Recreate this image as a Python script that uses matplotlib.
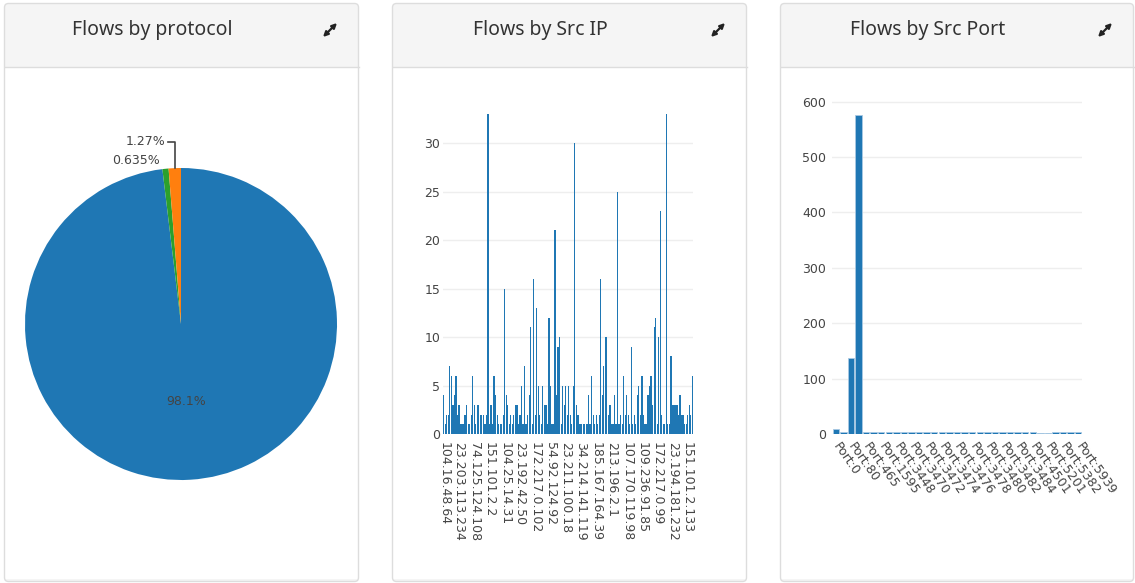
import matplotlib
matplotlib.use("Agg")
import matplotlib.pyplot as plt
from matplotlib.patches import FancyBboxPatch, Rectangle
import numpy as np

# ---------------- data ----------------
panel_titles = ["Flows by protocol", "Flows by Src IP", "Flows by Src Port"]

protocol_names = ["TCP", "ICMP", "UDP"]
protocol_counts = [309, 2, 4]
protocol_colors = ["#1f77b4", "#2ca02c", "#ff7f0e"]

src_ip_counts = [
    4, 1, 2, 2, 7, 6, 3, 4, 6, 2,
    3, 1, 1, 1, 2, 3, 1, 1, 2, 6,
    3, 1, 3, 3, 2, 2, 2, 1, 2, 33,
    1, 3, 1, 6, 4, 2, 1, 1, 1, 2,
    15, 4, 3, 1, 2, 1, 2, 3, 3, 1,
    2, 5, 1, 7, 1, 2, 4, 11, 1, 16,
    2, 13, 5, 2, 1, 5, 3, 3, 1, 12,
    5, 1, 1, 21, 4, 9, 10, 1, 5, 3,
    5, 2, 5, 2, 1, 5, 30, 3, 2, 1,
    1, 0, 1, 0, 1, 4, 1, 6, 2, 1,
    2, 1, 2, 16, 4, 7, 10, 10, 2, 3,
    1, 1, 4, 1, 25, 1, 2, 1, 6, 2,
    4, 2, 1, 9, 1, 2, 1, 4, 5, 2,
    6, 2, 1, 1, 4, 5, 6, 3, 11, 12,
    1, 10, 23, 2, 1, 1, 33, 1, 1, 8,
    3, 3, 3, 3, 2, 4, 2, 2, 1, 1,
    2, 3, 2, 6,
]
src_ip_tick_labels = [
    "104.16.48.64", "23.203.113.234", "74.125.124.108", "151.101.2.2",
    "104.25.14.31", "23.192.42.50", "172.217.0.102", "54.92.124.92",
    "23.211.100.18", "34.214.141.119", "185.167.164.39", "213.196.2.1",
    "107.170.119.98", "109.236.91.85", "172.217.0.99", "23.194.181.232",
    "151.101.2.133",
]

src_port_counts = [
    9, 4, 137, 576, 3, 3, 3, 3, 3, 3,
    3, 3, 3, 3, 3, 3, 3, 3, 3, 3,
    3, 3, 3, 3, 3, 3, 3, 1, 1, 3,
    3, 3, 3,
]
src_port_tick_labels = [
    "Port:0", "Port:80", "Port:465", "Port:1595", "Port:3448", "Port:3470",
    "Port:3472", "Port:3474", "Port:3476", "Port:3478", "Port:3480",
    "Port:3482", "Port:3484", "Port:4501", "Port:5201", "Port:5382",
    "Port:5939",
]

# ---------------- figure ----------------
W, H = 1135, 583
fig = plt.figure(figsize=(W / 100, H / 100), dpi=100)
fig.patch.set_facecolor("white")

bg = fig.add_axes([0, 0, 1, 1])
bg.set_xlim(0, W)
bg.set_ylim(H, 0)
bg.axis("off")

TXT = "#444444"
TICK_FONT = dict(family="DejaVu Sans", size=9, color=TXT)


def px_axes(x0, y0, x1, y1):
    return fig.add_axes([x0 / W, 1 - y1 / H, (x1 - x0) / W, (y1 - y0) / H])


cards = [(4, 359), (392, 747), (780, 1134)]
for (x0, x1), title in zip(cards, panel_titles):
    bg.add_patch(FancyBboxPatch((x0 + 0.5, 3.5), x1 - x0 - 1, 578,
                                boxstyle="round,pad=0,rounding_size=4",
                                fc="#f5f5f5", ec="none", zorder=1))
    bg.add_patch(Rectangle((x0 + 1, 67), x1 - x0 - 2, 512, fc="white",
                           ec="none", zorder=2))
    bg.plot([x0 + 0.5, x1 - 0.5], [67, 67], color="#dddddd", lw=1, zorder=3)
    bg.add_patch(FancyBboxPatch((x0 + 0.5, 3.5), x1 - x0 - 1, 578,
                                boxstyle="round,pad=0,rounding_size=4",
                                fc="none", ec="#dddddd", lw=1, zorder=4))
    cx = (x0 + x1) / 2 - 29.5
    bg.text(cx, 30, title, ha="center", va="center", fontsize=14,
            family="Noto Sans", color="#333333", zorder=5)
    ix = x1 - 29
    bg.annotate("", xy=(ix + 7, 23), xytext=(ix - 7, 37),
                arrowprops=dict(arrowstyle="<|-|>", color="#222222", lw=1.6,
                                mutation_scale=7, shrinkA=0, shrinkB=0),
                zorder=5)

# ---------------- pie ----------------
axp = px_axes(25, 168, 337, 480)
wedges, _ = axp.pie(protocol_counts, colors=protocol_colors, startangle=90,
                    counterclock=False, radius=1,
                    wedgeprops=dict(linewidth=0))
axp.set_xlim(-1, 1)
axp.set_ylim(-1, 1)
axp.set_aspect("equal")
axp.axis("off")
total = sum(protocol_counts)
pcts = [100 * v / total for v in protocol_counts]


def fmt(p):
    s = f"{p:.3g}"
    return s + "%"


# inside label for big slice
w = wedges[0]
mid = np.deg2rad((w.theta1 + w.theta2) / 2)
axp.text(0.5 * np.cos(mid), 0.5 * np.sin(mid), fmt(pcts[0]), ha="center",
         va="center", fontdict=TICK_FONT)
# orange slice: leader line
w = wedges[2]
mid = np.deg2rad((w.theta1 + w.theta2) / 2)
ex, ey = np.cos(mid), np.sin(mid)
axp.plot([ex, ex, ex - 0.045], [ey, 1.167, 1.167], color="#444444", lw=1.2,
         clip_on=False)
axp.text(ex - 0.06, 1.167, fmt(pcts[2]), ha="right", va="center",
         fontdict=TICK_FONT, clip_on=False)
# green slice
w = wedges[1]
mid = np.deg2rad((w.theta1 + w.theta2) / 2)
ex, ey = np.cos(mid), np.sin(mid)
axp.text(ex - 0.035, ey + 0.055, fmt(pcts[1]), ha="right", va="center",
         fontdict=TICK_FONT, clip_on=False)


def style_bar_axes(ax):
    for s in ax.spines.values():
        s.set_visible(False)
    ax.set_facecolor("none")
    ax.grid(axis="y", color="#eeeeee", lw=1)
    ax.set_axisbelow(True)
    ax.tick_params(length=0)
    for lab in ax.get_yticklabels():
        lab.set_fontfamily("DejaVu Sans")
        lab.set_fontsize(9)
        lab.set_color(TXT)


# ---------------- Src IP bars ----------------
axm = px_axes(443, 98, 693, 434)
n_ip = len(src_ip_counts)
axm.bar(np.arange(n_ip), src_ip_counts, width=0.8, color="#1f77b4", lw=0)
axm.set_xlim(-0.5, n_ip - 0.5)
axm.set_ylim(0, max(src_ip_counts) * 1.05)
axm.set_yticks(np.arange(0, 31, 5))
tick_pos = np.arange(0, n_ip, 10)[:len(src_ip_tick_labels)]
axm.set_xticks(tick_pos)
axm.set_xticklabels(src_ip_tick_labels, rotation=-90, ha="center", va="top",
                    family="DejaVu Sans", fontsize=9, color=TXT)
axm.tick_params(axis="x", pad=6)
axm.tick_params(axis="y", pad=2)
style_bar_axes(axm)

# ---------------- Src Port bars ----------------
axr = px_axes(832, 99, 1082, 434)
n_port = len(src_port_counts)
axr.bar(np.arange(n_port), src_port_counts, width=0.85, color="#1f77b4",
        edgecolor="#a9c9e3", lw=0.6)
axr.set_xlim(-0.5, n_port - 0.5)
axr.set_ylim(0, max(src_port_counts) * 1.05)
axr.set_yticks(np.arange(0, 601, 100))
axr.set_xticks(np.arange(0, n_port, 2)[:len(src_port_tick_labels)])
axr.set_xticklabels(src_port_tick_labels, rotation=-55, ha="left",
                    va="center", rotation_mode="anchor",
                    family="DejaVu Sans", fontsize=9, color=TXT)
axr.tick_params(axis="x", pad=7)
axr.tick_params(axis="y", pad=4)
style_bar_axes(axr)

fig.savefig("out.png", dpi=100, facecolor="white")
